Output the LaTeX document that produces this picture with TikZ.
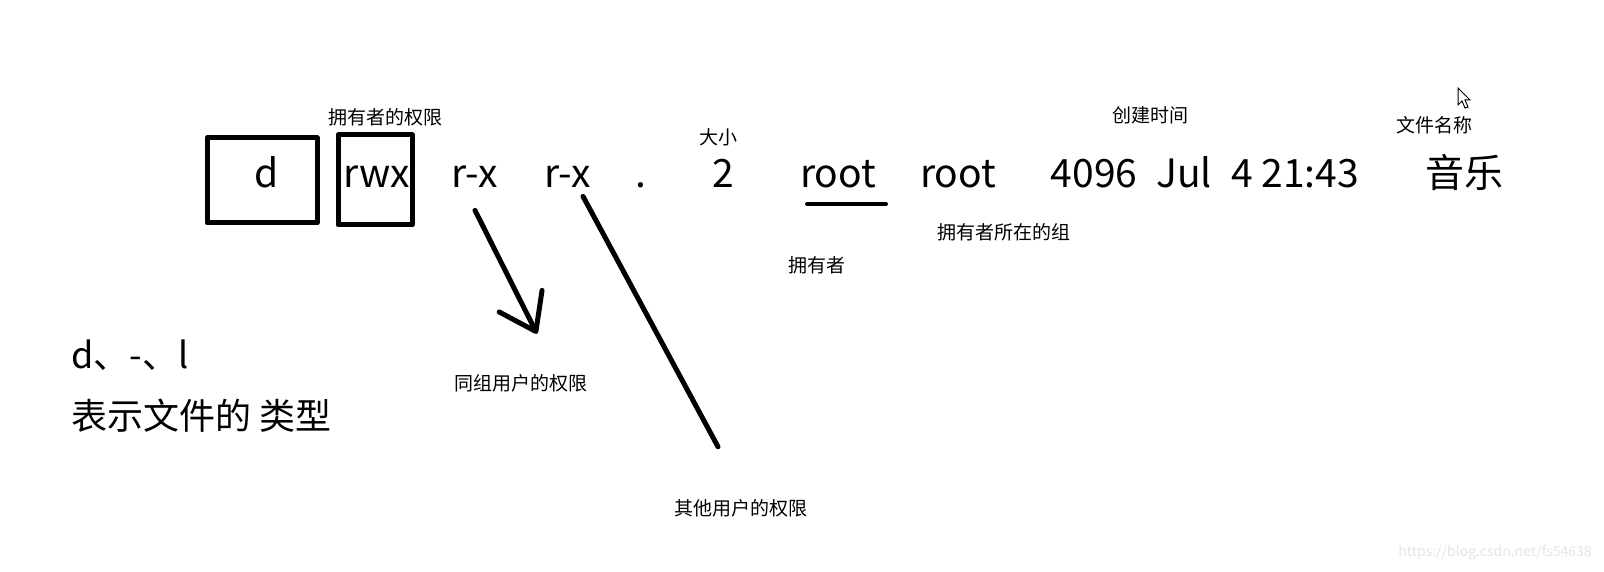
\documentclass[tikz,border=0pt]{standalone}
\usepackage{fontspec}
\setmainfont{Noto Sans CJK SC}
\usetikzlibrary{arrows.meta,positioning}
\tikzset{
    %Define hand drawn stroke
    handline/.style={
           line width=2.5pt,
           line cap=round,
           line join=round},
    %Define style for the fields of the listing
    col/.style={
           anchor=base,
           inner sep=0pt,
           font=\fontsize{19.5pt}{23pt}\selectfont},
    %Define style for the frames
    permbox/.style={
           handline,
           rectangle,
           draw=black,
           inner sep=0pt},
    % Define style for the small notes
    remark/.style={
           inner sep=0pt,
           font=\fontsize{9.5pt}{11pt}\selectfont},
    bigtext/.style={
           anchor=base west,
           inner sep=0pt,
           font=\fontsize{18pt}{22pt}\selectfont},
    % Define arrow style
    point/.style={
           handline,
           -{Straight Barb[round,length=17pt,width=24pt]}}
}
\begin{document}
\begin{tikzpicture}[x=0.5pt,y=-0.5pt]
    \fill[white] (0,0) rectangle (1604,572);
    \useasboundingbox (0,0) rectangle (1604,572);
 %frames
    \node[permbox, minimum width=55pt, minimum height=42.5pt] (typebox) at (262,180.5) {};
    \node[permbox, minimum width=37pt, minimum height=45pt] (ownbox) at (375,180) {};
 %fields
    \node[col] (ftype) at (267,188) {d};
    \node[col] (ownperm) at (377,188) {rwx};
    \node[col] (grpperm) at (475,188) {r-x};
    \node[col] (othperm) at (568,188) {r-x};
    \node[col] (dot) at (641,188) {.};
    \node[col] (links) at (723,188) {2};
    \node[col] (owner) at (838,188) {root};
    \node[col] (group) at (958,188) {root};
    \node[col] (bytes) at (1094,188) {4096};
    \node[col] (month) at (1184,188) {Jul};
    \node[col] (clock) at (1295,188) {4 21:43};
    \node[col] (fname) at (1464,188) {音乐};
 %notes
    \node[remark] (ownnote) at (385,117) {拥有者的权限};
    \node[remark] (sizenote) at (718,137) {大小};
    \node[remark] (timenote) at (1150,115) {创建时间};
    \node[remark] (namenote) at (1434,125) {文件名称};
    \node[remark] (grpnote) at (521,383) {同组用户的权限};
    \node[remark] (othnote) at (741,508) {其他用户的权限};
    \node[remark] (usernote) at (817,265) {拥有者};
    \node[remark] (gnamenote) at (1004,232) {拥有者所在的组};
    \node[bigtext] (kinds) at (71,368) {d、-、l};
    \node[bigtext] (kindnote) at (71,429) {表示文件的 类型};
    \node[inner sep=0pt, text=black!10, font=\fontsize{7pt}{8pt}\selectfont] (mark) at (1495,553) {https://blog.csdn.net/fs54638};
 %strokes
    \draw[handline, line width=2pt] (807,204) -- (886,204);
    \draw[point] ([yshift=-11pt]grpperm.south) -- ([xshift=8pt,yshift=20pt]grpnote.north);
    \draw[handline] ([xshift=7.5pt,yshift=-4pt]othperm.south) -- ([xshift=-11.5pt,yshift=26pt]othnote.north);
 %pointer
    \draw[line width=0.5pt, fill=white] (1458,88) -- (1458,105) -- (1462,101) -- (1465,108)
        -- (1468,107) -- (1465,100) -- (1470,100) -- cycle;
\end{tikzpicture}
\end{document}
